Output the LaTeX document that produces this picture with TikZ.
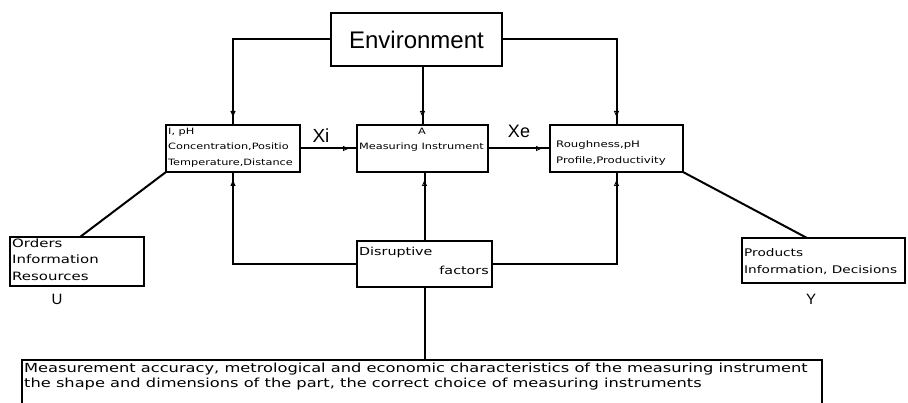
\documentclass[tikz,border=0pt]{standalone}
\usepackage{fontspec}
\setmainfont{Liberation Sans}
\newfontfamily\pix[FakeStretch=1.3]{DejaVu Sans}
\usetikzlibrary{arrows.meta,decorations.markings}
\tikzset{
  box/.style={draw, line width=2pt, anchor=north west, inner sep=0pt, outer sep=0pt},
  wire/.style={line width=2pt},
  arr/.style={postaction={decorate}, decoration={markings,
     mark=at position -8pt with {\arrow[line width=0.9pt]{Triangle[open,length=6pt,width=5pt]}}}},
  txt/.style={anchor=base west, inner sep=0pt, font=\pix\fontsize{8.7}{10}\selectfont},
  lbl/.style={inner sep=0pt}
}
\begin{document}
\begin{tikzpicture}[x=1pt,y=-1pt]
\useasboundingbox (0,0) rectangle (908,403);
\clip (0,0) rectangle (908,403);
% boxes
\node[box, minimum width=171pt, minimum height=53pt] (env) at (331,13) {};
\node[box, minimum width=134pt, minimum height=47pt] (L) at (166,125) {};
\node[box, minimum width=131pt, minimum height=47pt] (M) at (357,125) {};
\node[box, minimum width=133pt, minimum height=47pt] (R) at (550,125) {};
\node[box, minimum width=134pt, minimum height=49pt] (O) at (10,237) {};
\node[box, minimum width=135pt, minimum height=46pt] (D) at (357,241) {};
\node[box, minimum width=163pt, minimum height=45pt] (P) at (742,238) {};
\node[box, minimum width=800pt, minimum height=70pt] (B) at (22,360) {};
% texts
\node[lbl, font=\fontsize{24}{28}\selectfont] (envt) at (env.center) {Environment};
\node[txt] (l1) at (168,135) {I, pH};
\node[txt] (l2) at (168,150) {Concentration,Positio};
\node[txt] (l3) at (168,166) {Temperature,Distance};
\node[txt, anchor=base] (m1) at (422,135) {A};
\node[txt] (m2) at (359,150) {Measuring Instrument};
\node[txt, font=\pix\fontsize{9}{10}\selectfont] (r1) at (556,148) {Roughness,pH};
\node[txt, font=\pix\fontsize{9}{10}\selectfont] (r2) at (556,164) {Profile,Productivity};
\node[txt, font=\pix\fontsize{11.5}{12}\selectfont] (o1) at (12,248) {Orders};
\node[txt, font=\pix\fontsize{11.5}{12}\selectfont] (o2) at (12,264) {Information};
\node[txt, font=\pix\fontsize{11.5}{12}\selectfont] (o3) at (12,281) {Resources};
\node[txt, font=\pix\fontsize{11}{12}\selectfont] (d1) at (359,256) {Disruptive};
\node[txt, anchor=base east, font=\pix\fontsize{11}{12}\selectfont] (d2) at (489,275) {factors};
\node[txt, font=\pix\fontsize{10.5}{12}\selectfont] (p1) at (744,257) {Products};
\node[txt, font=\pix\fontsize{10.5}{12}\selectfont] (p2) at (744,274) {Information, Decisions};
\node[txt, font=\pix\fontsize{12.5}{14}\selectfont] (b1) at (24,373) {Measurement accuracy, metrological and economic characteristics of the measuring instrument};
\node[txt, font=\pix\fontsize{12.5}{14}\selectfont] (b2) at (24,388) {the shape and dimensions of the part, the correct choice of measuring instruments};
\node[lbl, font=\fontsize{19}{22}\selectfont] (xi) at (321,136) {Xi};
\node[lbl, font=\fontsize{18}{22}\selectfont] (xe) at (519,131) {Xe};
\node[lbl, font=\fontsize{15}{18}\selectfont] (u) at (57,299) {U};
\node[lbl, font=\fontsize{15}{18}\selectfont] (y) at (811,299) {Y};
% connectors
\draw[wire, arr] (env.west) -| (L.north);
\draw[wire, arr] (env.east) -| (R.north);
\draw[wire, arr] (env.south -| M.north) -- (M.north);
\draw[wire, arr] (L.east) -- (M.west);
\draw[wire, arr] (M.east) -- (R.west);
\draw[wire, arr] (D.west) -| (L.south);
\draw[wire, arr] (D.east) -| (R.south);
\draw[wire, arr] (D.north) -- (D.north |- M.south);
\draw[wire] (D.south) -- (D.south |- B.north);
\coordinate (oa) at (80,237);
\coordinate (pa) at (807,238);
\draw[wire] (L.south west) -- (oa);
\draw[wire] (R.south east) -- (pa);
\end{tikzpicture}
\end{document}
